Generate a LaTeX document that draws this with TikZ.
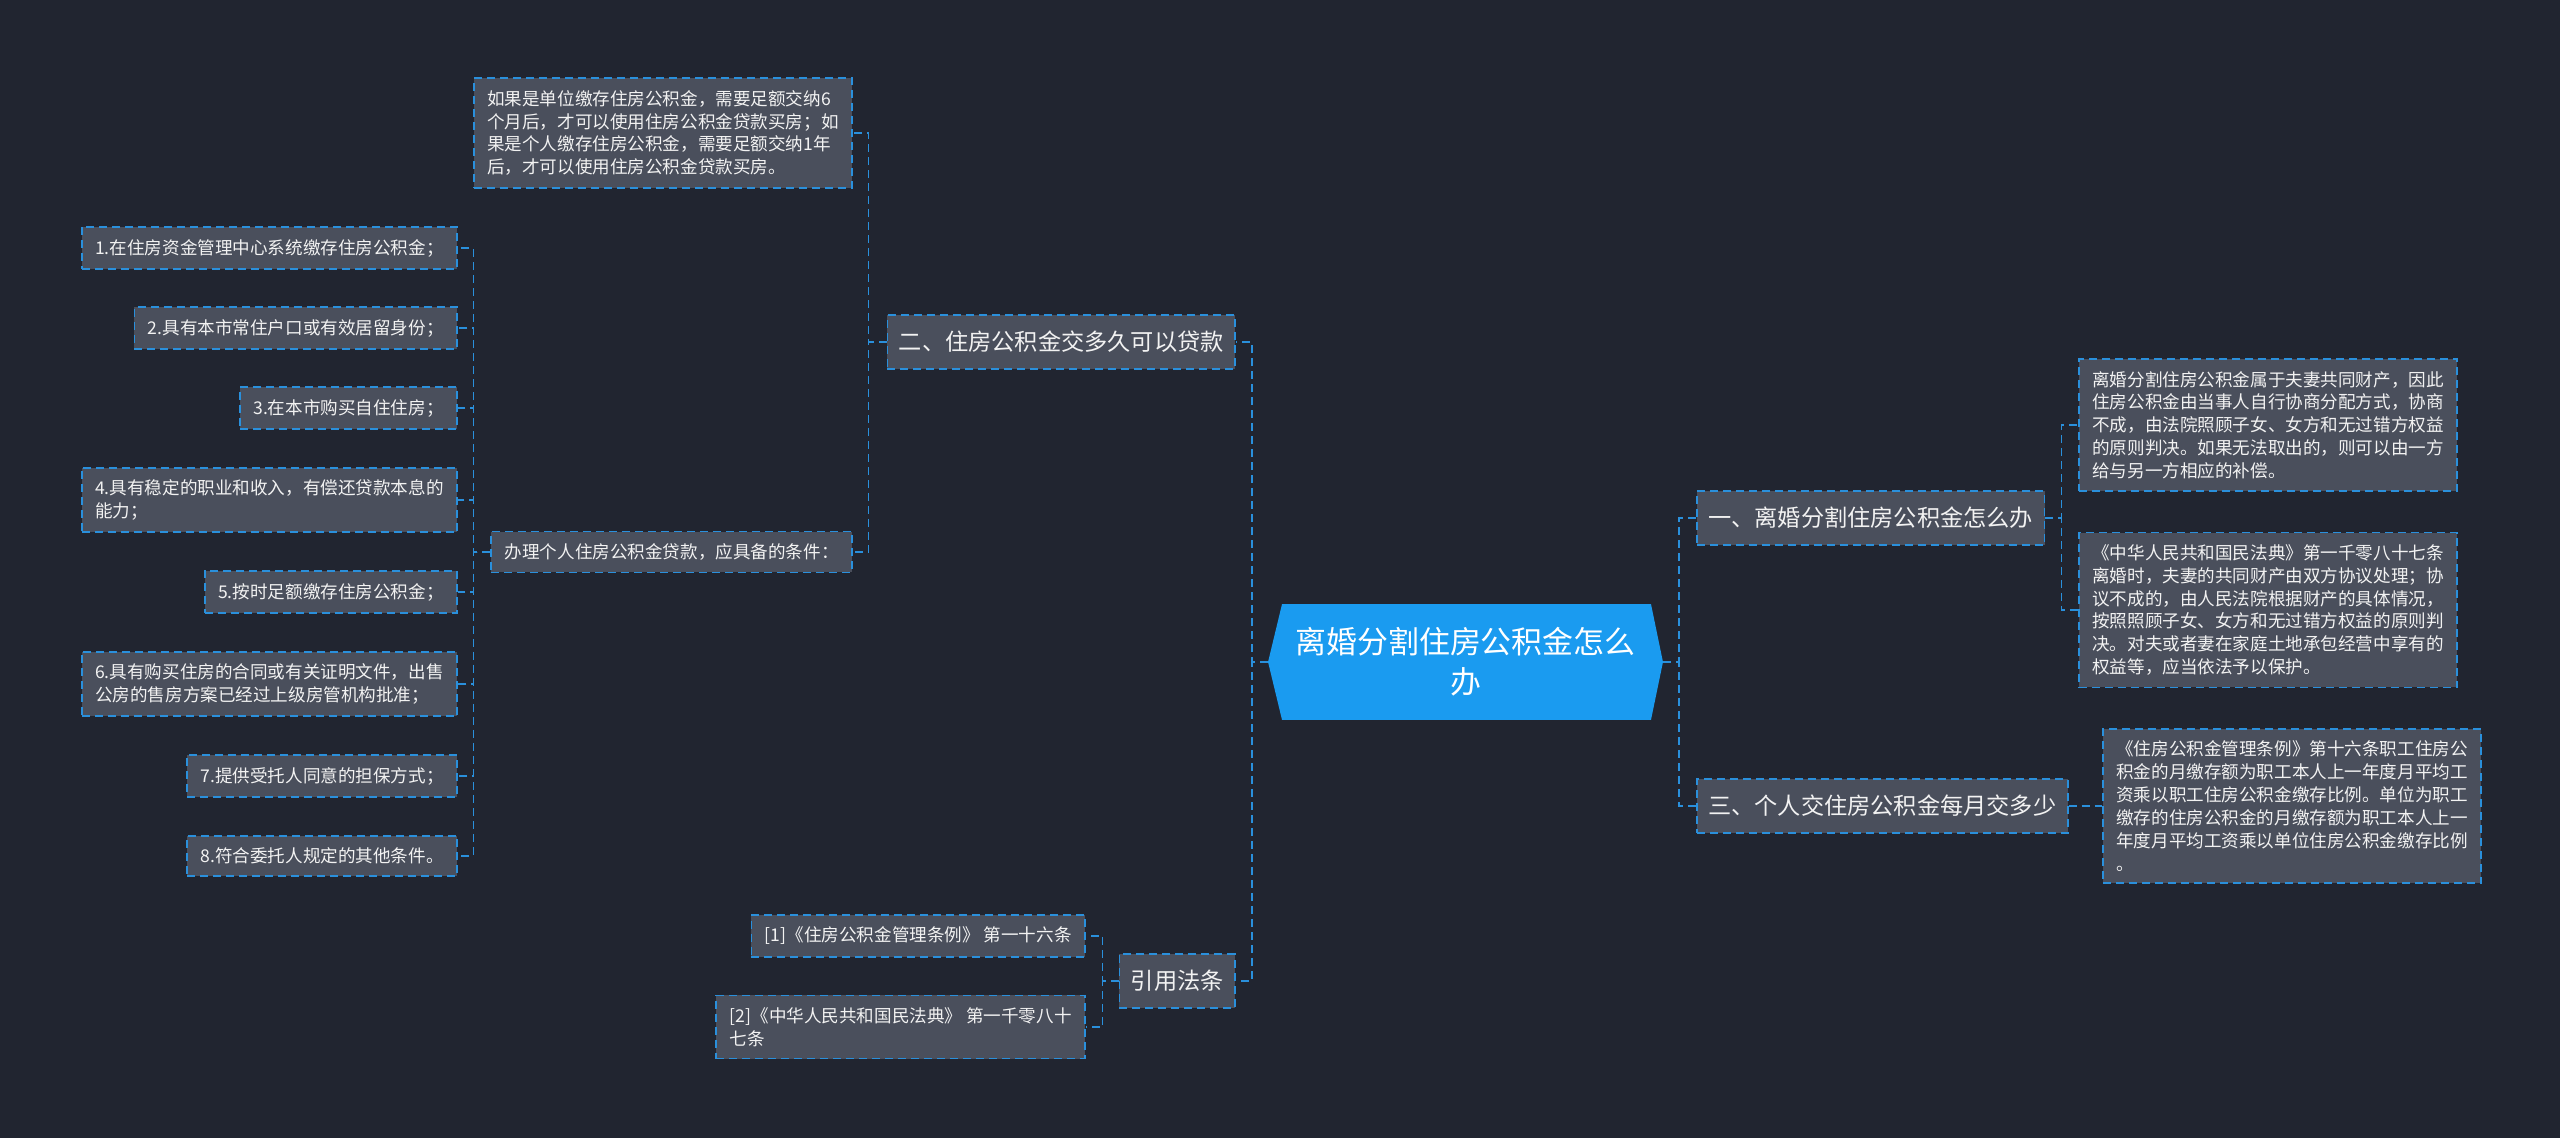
\documentclass[tikz,border=0pt]{standalone}
\usepackage{fontspec}
\setmainfont{Noto Sans CJK SC}

\definecolor{bgcol}{HTML}{212530}
\definecolor{boxcol}{HTML}{4A4F5C}
\definecolor{linecol}{HTML}{2A90DC}
\definecolor{rootcol}{HTML}{1A9BF0}
\definecolor{txtcol}{HTML}{F2F2F2}

\tikzset{
  dashline/.style={draw=linecol, line width=0.035cm, dash pattern=on 0.16cm off 0.1cm},
  link/.style={dashline},
  topic/.style={dashline, fill=boxcol, text=txtcol, font=\fontsize{13.2}{16}\selectfont,
    inner xsep=0.23cm, inner ysep=0.32cm},
  leaf/.style={dashline, fill=boxcol, text=txtcol, font=\fontsize{10}{13}\selectfont,
    align=left, inner xsep=0.27cm, inner ysep=0.24cm},
  rootbox/.style={text=white, font=\fontsize{17.6}{22.7}\selectfont, align=center,
    minimum width=7.9cm, minimum height=2.32cm, inner sep=0pt,
    path picture={\fill[rootcol]
      ([xshift=0.28cm]path picture bounding box.north west) --
      ([xshift=-0.24cm]path picture bounding box.north east) --
      (path picture bounding box.east) --
      ([xshift=-0.24cm]path picture bounding box.south east) --
      ([xshift=0.28cm]path picture bounding box.south west) --
      (path picture bounding box.west) -- cycle;}},
}

\begin{document}
\begin{tikzpicture}[x=0.02cm, y=-0.02cm]

% Canvas (pixel units, y downwards)
\useasboundingbox (0,0) rectangle (2560,1138);
\fill[bgcol] (0,0) rectangle (2560,1138);

% Spine offsets
\def\gap{16}

% Centre
\node[rootbox] (root) at (1465.5,662) {离婚分割住房公积金怎么\\办};

% Main topics
\node[topic, anchor=east] (loan) at (1236,342) {二、住房公积金交多久可以贷款};
\node[topic, anchor=east] (cite) at (1236,981) {引用法条};
\node[topic, anchor=west] (div) at (1696,518) {一、离婚分割住房公积金怎么办};
\node[topic, anchor=west] (pay) at (1696,806) {三、个人交住房公积金每月交多少};

% Branch: loan
\node[leaf, anchor=east] (loanA) at (853,133) {如果是单位缴存住房公积金，需要足额交纳6\\个月后，才可以使用住房公积金贷款买房；如\\果是个人缴存住房公积金，需要足额交纳1年\\后，才可以使用住房公积金贷款买房。};
\node[leaf, anchor=east] (cond) at (853,552) {办理个人住房公积金贷款，应具备的条件：};

% Conditions
\node[leaf, anchor=east] (c1) at (458,248) {1.在住房资金管理中心系统缴存住房公积金；};
\node[leaf, anchor=east] (c2) at (458,328) {2.具有本市常住户口或有效居留身份；};
\node[leaf, anchor=east] (c3) at (458,408) {3.在本市购买自住住房；};
\node[leaf, anchor=east] (c4) at (458,500) {4.具有稳定的职业和收入，有偿还贷款本息的\\能力；};
\node[leaf, anchor=east] (c5) at (458,592) {5.按时足额缴存住房公积金；};
\node[leaf, anchor=east] (c6) at (458,684) {6.具有购买住房的合同或有关证明文件，出售\\公房的售房方案已经过上级房管机构批准；};
\node[leaf, anchor=east] (c7) at (458,776) {7.提供受托人同意的担保方式；};
\node[leaf, anchor=east] (c8) at (458,856) {8.符合委托人规定的其他条件。};

% Branch: cite
\node[leaf, anchor=east] (ref1) at (1086,936) {[1]《住房公积金管理条例》 第一十六条};
\node[leaf, anchor=east] (ref2) at (1086,1027) {[2]《中华人民共和国民法典》 第一千零八十\\七条};

% Branch: div
\node[leaf, anchor=west] (divA) at (2078,425) {离婚分割住房公积金属于夫妻共同财产，因此\\住房公积金由当事人自行协商分配方式，协商\\不成，由法院照顾子女、女方和无过错方权益\\的原则判决。如果无法取出的，则可以由一方\\给与另一方相应的补偿。};
\node[leaf, anchor=west] (divB) at (2078,610) {《中华人民共和国民法典》第一千零八十七条\\离婚时，夫妻的共同财产由双方协议处理；协\\议不成的，由人民法院根据财产的具体情况，\\按照照顾子女、女方和无过错方权益的原则判\\决。对夫或者妻在家庭土地承包经营中享有的\\权益等，应当依法予以保护。};

% Branch: pay
\node[leaf, anchor=west] (payA) at (2102,806) {《住房公积金管理条例》第十六条职工住房公\\积金的月缴存额为职工本人上一年度月平均工\\资乘以职工住房公积金缴存比例。单位为职工\\缴存的住房公积金的月缴存额为职工本人上一\\年度月平均工资乘以单位住房公积金缴存比例\\。};

% Connectors
\draw[link] (root.west) -- ++(-\gap,0) |- (loan.east);
\draw[link] (root.west) -- ++(-\gap,0) |- (cite.east);
\draw[link] (root.east) -- ++(\gap,0) |- (div.west);
\draw[link] (root.east) -- ++(\gap,0) |- (pay.west);
\foreach \n in {loanA,cond}
  \draw[link] (loan.west) -- ++(-18,0) |- (\n.east);
\foreach \i in {1,...,8}
  \draw[link] (cond.west) -- ++(-17,0) |- (c\i.east);
\foreach \i in {1,2}
  \draw[link] (cite.west) -- ++(-\gap,0) |- (ref\i.east);
\foreach \n in {divA,divB}
  \draw[link] (div.east) -- ++(\gap,0) |- (\n.west);
\draw[link] (pay.east) -- (payA.west);

\end{tikzpicture}
\end{document}
